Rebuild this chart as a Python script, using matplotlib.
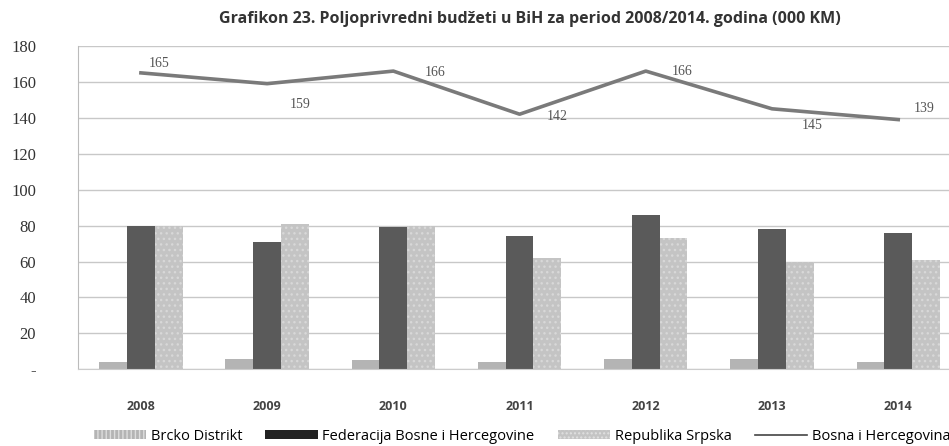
import numpy as np
import matplotlib
matplotlib.use("Agg")
import matplotlib.pyplot as plt
from matplotlib.lines import Line2D
from matplotlib.patches import Patch

# Poljoprivredni budzeti u BiH, 2008-2014 (000 KM)
years = ["2008", "2009", "2010", "2011", "2012", "2013", "2014"]
brcko = [4, 6, 5, 4, 6, 6, 4]
federacija = [80, 71, 79, 74, 86, 78, 76]
srpska = [80, 81, 80, 62, 73, 60, 61]
bih = [165, 159, 166, 142, 166, 145, 139]
bih_labels = ["165", "159", "166", "142", "166", "145", "139"]
label_offsets = [(13, 7), (24, -15), (30, -1), (27, -2), (26, 0), (29, -12), (19, 8)]

fig = plt.figure(figsize=(9.49, 4.46), dpi=100)
ax = fig.add_axes([0.082, 0.172, 0.931, 0.725])

x = np.arange(len(years))
w = 0.22

ax.bar(x - w, brcko, w, color="#b4b4b4", zorder=2)
ax.bar(x, federacija, w, color="#5a5a5a", zorder=2)
ax.bar(x + w, srpska, w, color="#c4c4c4", edgecolor="#d8d8d8", hatch="...",
       linewidth=0, zorder=2)
ax.plot(x, bih, color="#7a7a7a", linewidth=2.6, zorder=3)

for xi, yi, txt, off in zip(x, bih, bih_labels, label_offsets):
    ax.annotate(txt, (xi, yi), xytext=off, textcoords="offset points",
                ha="center", va="center", fontsize=10, color="#555555",
                family="Liberation Serif")

ax.set_xlim(-0.5, len(years) - 0.5)
ax.set_ylim(0, 180)
ax.set_yticks(range(0, 181, 20))
ax.set_yticklabels(["-"] + [str(v) for v in range(20, 181, 20)],
                   family="Liberation Serif", fontsize=12, color="#333333")
ax.set_xticks(x)
ax.set_xticklabels(years, fontweight="bold", fontsize=9, color="#444444",
                   family="Open Sans")
ax.tick_params(axis="x", length=0, pad=22)
ax.tick_params(axis="y", length=0, pad=30)

ax.grid(axis="y", color="#c8c8c8", linewidth=1.0, zorder=0)
for s in ["top", "right"]:
    ax.spines[s].set_visible(False)
ax.spines["left"].set_color("#bbbbbb")
ax.spines["bottom"].set_color("#cccccc")

fig.text(0.558, 0.958, "Grafikon 23. Poljoprivredni budžeti u BiH za period 2008/2014. godina (000 KM)",
         ha="center", va="center", fontsize=11.5, fontweight="bold", color="#333333",
         family="Open Sans")

handles = [
    Patch(facecolor="#b4b4b4", edgecolor="#dddddd", hatch="||||", linewidth=0),
    Patch(facecolor="#222222"),
    Patch(facecolor="#c4c4c4", edgecolor="#e0e0e0", hatch="....", linewidth=0),
    Line2D([0], [0], color="#444444", linewidth=1.2),
]
labels = ["Brcko Distrikt", "Federacija Bosne i Hercegovine", "Republika Srpska",
          "Bosna i Hercegovina"]
fig.legend(handles, labels, loc="center", bbox_to_anchor=(0.55, 0.022), ncol=4,
           frameon=False, handlelength=3.6, handleheight=0.5,
           columnspacing=1.6, handletextpad=0.3,
           prop={"family": "Open Sans", "size": 10.5})

fig.savefig("out.png", dpi=100)
